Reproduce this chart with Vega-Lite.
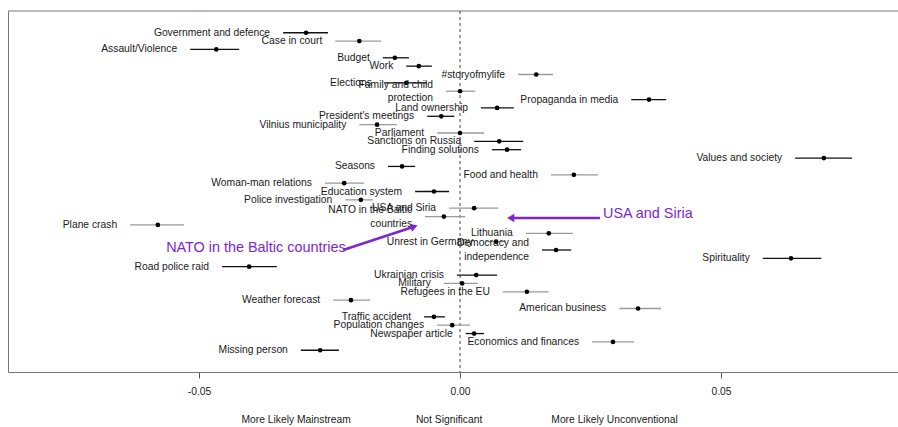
{
  "$schema": "https://vega.github.io/schema/vega-lite/v6.json",
  "width": 890,
  "height": 361,
  "autosize": {"type": "none"},
  "padding": {"left": 8, "top": 11, "right": 0, "bottom": 55},
  "background": "white",
  "config": {
    "view": {"stroke": null},
    "font": "Liberation Sans",
    "axis": {"grid": false}
  },
  "datasets": {
    "topics": [
      {"row": 1, "label": "Government and defence", "est": -0.0295, "lo": -0.0339, "hi": -0.0253, "group": "A"},
      {"row": 2, "label": "Case in court", "est": -0.0193, "lo": -0.0239, "hi": -0.0151, "group": "B"},
      {"row": 3, "label": "Assault/Violence", "est": -0.0467, "lo": -0.0517, "hi": -0.0423, "group": "A"},
      {"row": 4, "label": "Budget", "est": -0.0125, "lo": -0.0148, "hi": -0.0098, "group": "A"},
      {"row": 5, "label": "Work", "est": -0.0079, "lo": -0.0103, "hi": -0.0054, "group": "A"},
      {"row": 6, "label": "#storyofmylife", "est": 0.0146, "lo": 0.0111, "hi": 0.0178, "group": "B"},
      {"row": 7, "label": "Elections", "est": -0.0103, "lo": -0.0144, "hi": -0.0063, "group": "A"},
      {"row": 8, "label": "Family and child\nprotection", "est": 0.0, "lo": -0.0027, "hi": 0.0029, "group": "B"},
      {"row": 9, "label": "Propaganda in media", "est": 0.0362, "lo": 0.0328, "hi": 0.0395, "group": "A"},
      {"row": 10, "label": "Land ownership", "est": 0.0071, "lo": 0.0040, "hi": 0.0103, "group": "A"},
      {"row": 11, "label": "President's meetings", "est": -0.0036, "lo": -0.0063, "hi": -0.0011, "group": "A"},
      {"row": 12, "label": "Vilnius municipality", "est": -0.0159, "lo": -0.0193, "hi": -0.0121, "group": "B"},
      {"row": 13, "label": "Parliament", "est": 0.0, "lo": -0.0044, "hi": 0.0046, "group": "B"},
      {"row": 14, "label": "Sanctions on Russia", "est": 0.0075, "lo": 0.0027, "hi": 0.0121, "group": "A"},
      {"row": 15, "label": "Finding solutions", "est": 0.0090, "lo": 0.0061, "hi": 0.0117, "group": "A"},
      {"row": 16, "label": "Values and society", "est": 0.0697, "lo": 0.0642, "hi": 0.0751, "group": "A"},
      {"row": 17, "label": "Seasons", "est": -0.0111, "lo": -0.0138, "hi": -0.0086, "group": "A"},
      {"row": 18, "label": "Food and health", "est": 0.0218, "lo": 0.0174, "hi": 0.0264, "group": "B"},
      {"row": 19, "label": "Woman-man relations", "est": -0.0222, "lo": -0.0259, "hi": -0.0184, "group": "B"},
      {"row": 20, "label": "Education system", "est": -0.0050, "lo": -0.0086, "hi": -0.0021, "group": "A"},
      {"row": 21, "label": "Police investigation", "est": -0.0190, "lo": -0.0220, "hi": -0.0167, "group": "B"},
      {"row": 22, "label": "USA and Siria", "est": 0.0027, "lo": -0.0021, "hi": 0.0073, "group": "B"},
      {"row": 23, "label": "NATO in the Baltic\ncountries", "est": -0.0031, "lo": -0.0067, "hi": 0.0010, "group": "B"},
      {"row": 24, "label": "Plane crash", "est": -0.0579, "lo": -0.0632, "hi": -0.0529, "group": "B"},
      {"row": 25, "label": "Lithuania", "est": 0.0170, "lo": 0.0126, "hi": 0.0216, "group": "B"},
      {"row": 26, "label": "Unrest in Germany", "est": 0.0069, "lo": 0.0050, "hi": 0.0088, "group": "B"},
      {"row": 27, "label": "Democracy and\nindependence", "est": 0.0184, "lo": 0.0157, "hi": 0.0213, "group": "A"},
      {"row": 28, "label": "Spirituality", "est": 0.0634, "lo": 0.0580, "hi": 0.0692, "group": "A"},
      {"row": 29, "label": "Road police raid", "est": -0.0404, "lo": -0.0456, "hi": -0.0351, "group": "A"},
      {"row": 30, "label": "Ukrainian crisis", "est": 0.0031, "lo": -0.0006, "hi": 0.0071, "group": "A"},
      {"row": 31, "label": "Military", "est": 0.0004, "lo": -0.0031, "hi": 0.0034, "group": "B"},
      {"row": 32, "label": "Refugees in the EU", "est": 0.0128, "lo": 0.0082, "hi": 0.0170, "group": "B"},
      {"row": 33, "label": "Weather forecast", "est": -0.0209, "lo": -0.0243, "hi": -0.0172, "group": "B"},
      {"row": 34, "label": "American business", "est": 0.0341, "lo": 0.0305, "hi": 0.0385, "group": "B"},
      {"row": 35, "label": "Traffic accident", "est": -0.0050, "lo": -0.0069, "hi": -0.0029, "group": "A"},
      {"row": 36, "label": "Population changes", "est": -0.0015, "lo": -0.0044, "hi": 0.0019, "group": "B"},
      {"row": 37, "label": "Newspaper article", "est": 0.0027, "lo": 0.0011, "hi": 0.0046, "group": "A"},
      {"row": 38, "label": "Economics and finances", "est": 0.0293, "lo": 0.0253, "hi": 0.0333, "group": "B"},
      {"row": 39, "label": "Missing person", "est": -0.0268, "lo": -0.0305, "hi": -0.0232, "group": "A"}
    ],
    "bottom": [
      {"text": "More Likely Mainstream", "x": -0.0314, "row": 47.34},
      {"text": "Not Significant", "x": -0.0021, "row": 47.34},
      {"text": "More Likely Unconventional", "x": 0.0296, "row": 47.34}
    ]
  },
  "layer": [
    {
      "data": {"values": [{"row": -1.6}]},
      "mark": {"type": "rule", "color": "#777", "strokeWidth": 1},
      "encoding": {
        "y": {"field": "row", "type": "quantitative", "scale": {"domain": [-1.6, 41.6], "reverse": true, "nice": false, "zero": false}}
      }
    },
    {
      "data": {"values": [{"x": 0}]},
      "mark": {"type": "rule", "color": "#444", "strokeWidth": 1, "strokeDash": [3, 3]},
      "encoding": {
        "x": {"field": "x", "type": "quantitative", "scale": {"domain": [-0.0866, 0.0839], "nice": false, "zero": false}}
      }
    },
    {
      "data": {"name": "topics"},
      "mark": {"type": "rule", "strokeWidth": 1.3},
      "encoding": {
        "x": {
          "field": "lo", "type": "quantitative",
          "scale": {"domain": [-0.0866, 0.0839], "nice": false, "zero": false},
          "axis": {
            "values": [-0.05, 0, 0.05],
            "labelExpr": "datum.value < 0 ? '-' + format(-datum.value, '.2f') : format(datum.value, '.2f')",
            "title": null,
            "domainColor": "#777",
            "domainWidth": 1,
            "tickColor": "#555",
            "tickSize": 6,
            "labelPadding": 8,
            "labelFontSize": 10.3,
            "labelColor": "#222",
            "labelFont": "Liberation Sans"
          }
        },
        "x2": {"field": "hi"},
        "y": {
          "field": "row", "type": "quantitative",
          "scale": {"domain": [-1.6, 41.6], "reverse": true, "nice": false, "zero": false},
          "axis": {"labels": false, "ticks": false, "title": null, "domainColor": "#777", "domainWidth": 1}
        },
        "color": {"field": "group", "type": "nominal", "scale": {"domain": ["A", "B"], "range": ["#111111", "#9a9a9a"]}, "legend": null}
      }
    },
    {
      "data": {"name": "topics"},
      "mark": {"type": "point", "filled": true, "color": "#000", "size": 22, "opacity": 1},
      "encoding": {
        "x": {"field": "est", "type": "quantitative"},
        "y": {"field": "row", "type": "quantitative"}
      }
    },
    {
      "data": {"name": "topics"},
      "transform": [{"filter": "indexof(datum.label, '\\n') < 0"}],
      "mark": {"type": "text", "align": "right", "baseline": "middle", "dx": -13, "fontSize": 10.3, "color": "#1a1a1a", "font": "Liberation Sans"},
      "encoding": {
        "x": {"field": "lo", "type": "quantitative"},
        "y": {"field": "row", "type": "quantitative"},
        "text": {"field": "label"}
      }
    },
    {
      "data": {"name": "topics"},
      "transform": [{"filter": "indexof(datum.label, '\\n') >= 0"}],
      "mark": {"type": "text", "align": "right", "baseline": "middle", "dx": -13, "dy": -6.5, "fontSize": 10.3, "lineBreak": "\n", "lineHeight": 13.5, "color": "#1a1a1a", "font": "Liberation Sans"},
      "encoding": {
        "x": {"field": "lo", "type": "quantitative"},
        "y": {"field": "row", "type": "quantitative"},
        "text": {"field": "label"}
      }
    },
    {
      "data": {"name": "bottom"},
      "mark": {"type": "text", "align": "center", "baseline": "middle", "fontSize": 10.3, "color": "#1a1a1a", "font": "Liberation Sans"},
      "encoding": {
        "x": {"field": "x", "type": "quantitative"},
        "y": {"field": "row", "type": "quantitative"},
        "text": {"field": "text"}
      }
    },
    {
      "data": {"values": [
        {"x": 0.0268, "x2": 0.0098, "row": 23.17, "row2": 23.17},
        {"x": -0.0224, "x2": -0.0090, "row": 27.0, "row2": 24.25}
      ]},
      "mark": {"type": "rule", "color": "#7D26CD", "strokeWidth": 2.5},
      "encoding": {
        "x": {"field": "x", "type": "quantitative"},
        "x2": {"field": "x2"},
        "y": {"field": "row", "type": "quantitative"},
        "y2": {"field": "row2"}
      }
    },
    {
      "data": {"values": [{"x": 0.0097, "row": 23.17}]},
      "mark": {"type": "point", "shape": "triangle-left", "filled": true, "color": "#7D26CD", "size": 70, "opacity": 1},
      "encoding": {
        "x": {"field": "x", "type": "quantitative"},
        "y": {"field": "row", "type": "quantitative"}
      }
    },
    {
      "data": {"values": [{"x": -0.0088, "row": 24.2}]},
      "mark": {"type": "point", "shape": "triangle-right", "angle": -18, "filled": true, "color": "#7D26CD", "size": 70, "opacity": 1},
      "encoding": {
        "x": {"field": "x", "type": "quantitative"},
        "y": {"field": "row", "type": "quantitative"}
      }
    },
    {
      "data": {"values": [
        {"text": "USA and Siria", "x": 0.0274, "row": 22.69},
        {"text": "NATO in the Baltic countries", "x": -0.0563, "row": 26.76}
      ]},
      "mark": {"type": "text", "align": "left", "baseline": "middle", "fontSize": 14.4, "color": "#7D26CD", "font": "Liberation Sans"},
      "encoding": {
        "x": {"field": "x", "type": "quantitative"},
        "y": {"field": "row", "type": "quantitative"},
        "text": {"field": "text"}
      }
    }
  ]
}
